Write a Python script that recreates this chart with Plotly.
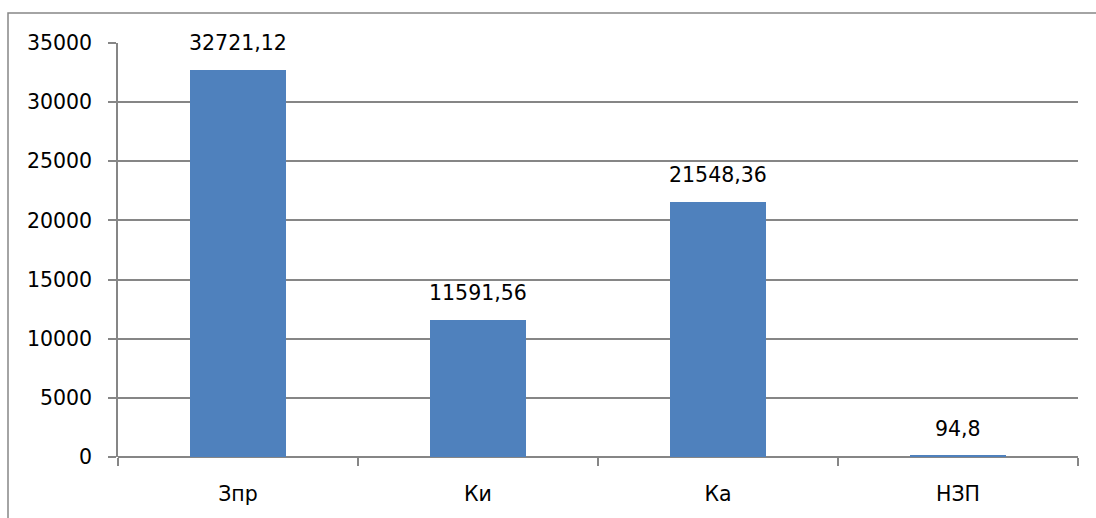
import plotly.graph_objects as go

categories = ["Зпр", "Ки", "Ка", "НЗП"]
values = [32721.12, 11591.56, 21548.36, 94.8]
label_texts = [str(v).replace(".", ",") for v in values]
y_ticks = [0, 5000, 10000, 15000, 20000, 25000, 30000, 35000]

W, H = 1096, 518
L, R, T, B = 118, 18, 43, 61
pw, ph = W - L - R, H - T - B

FONT = "DejaVu Sans"
FS = 20.5
GRAY = "#868686"

fig = go.Figure()
fig.add_trace(go.Bar(
    x=categories, y=values,
    marker=dict(color="#4F81BD", line=dict(width=0)),
    width=0.4,
    hoverinfo="skip",
))

for c, v, t in zip(categories, values, label_texts):
    fig.add_annotation(x=c, y=v, text=t, showarrow=False,
                       yanchor="middle", yshift=27,
                       font=dict(family=FONT, size=FS, color="#000000"))

# chart border
fig.add_shape(type="rect", xref="paper", yref="paper",
              x0=(8 - L) / pw, x1=(W + 5 - L) / pw,
              y0=-(H + 5 - (T + ph)) / ph, y1=((T + ph) - 13) / ph,
              line=dict(color=GRAY, width=1.5), layer="below")

fig.update_layout(
    width=W, height=H,
    margin=dict(l=L, r=R, t=T, b=B, pad=0),
    paper_bgcolor="white", plot_bgcolor="white",
    showlegend=False,
    font=dict(family=FONT, size=FS, color="#000000"),
    xaxis=dict(
        type="category", range=[-0.5, 3.5],
        showgrid=False, showline=False,
        ticks="outside", tickson="boundaries", ticklen=8,
        tickcolor=GRAY, tickwidth=1.5,
        ticklabelstandoff=22,
        tickfont=dict(family=FONT, size=FS),
        zeroline=False,
    ),
    yaxis=dict(
        range=[0, 35000], tickvals=y_ticks,
        ticktext=[str(v) for v in y_ticks],
        showgrid=True, gridcolor=GRAY, gridwidth=1.5,
        showline=True, linecolor=GRAY, linewidth=1.5,
        ticks="outside", ticklen=8, tickcolor=GRAY, tickwidth=1.5,
        ticklabelstandoff=12,
        tickfont=dict(family=FONT, size=FS),
        zeroline=True, zerolinecolor=GRAY, zerolinewidth=1.5,
    ),
)

fig.write_html("out.html")
